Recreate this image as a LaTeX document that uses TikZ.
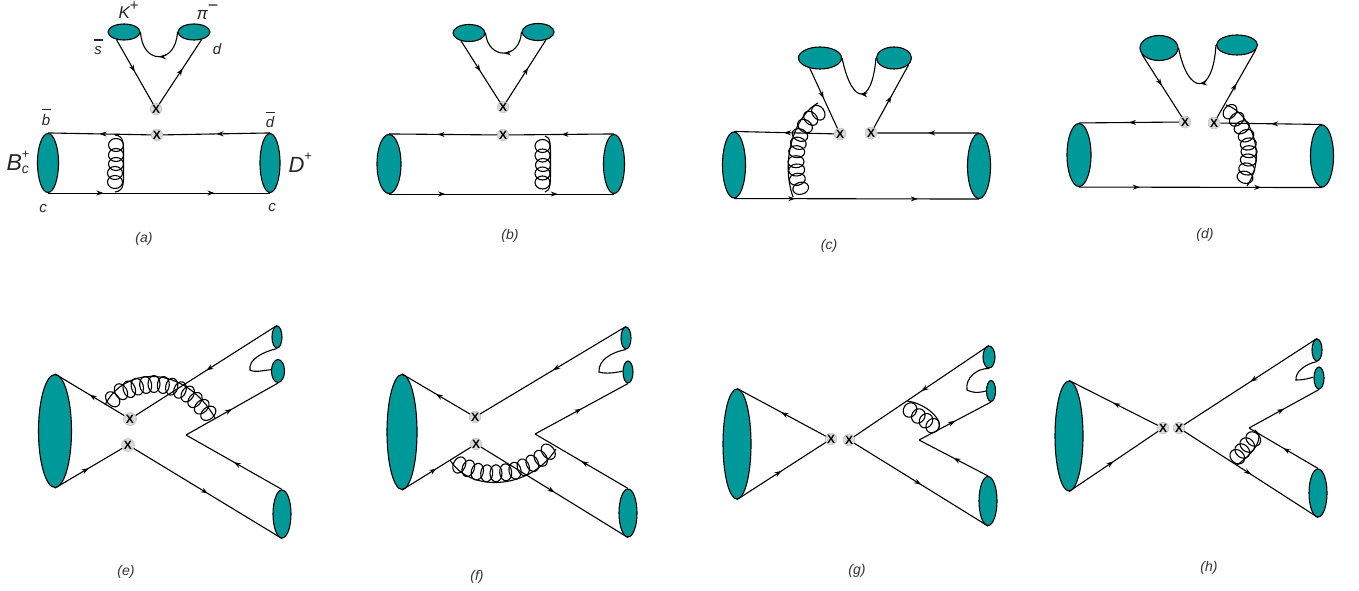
\documentclass[tikz,border=0pt]{standalone}
\usepackage{fontspec}
\setmainfont{Liberation Sans}
\usetikzlibrary{arrows.meta, shapes.geometric, decorations.markings}
\definecolor{mesonteal}{HTML}{009999}
\newcommand{\chg}[3]{\raisebox{#1}{\fontsize{#2}{#2}\selectfont\upshape #3}}
\newcommand{\qbar}[3]{\rlap{\raisebox{#1}{\rule{9pt}{#2}}}#3}
\newcommand{\gloops}[3]{\foreach \gx/\gy/\ga in {#3}
  \draw[shift={(\gx,\gy)}, rotate=\ga] (0,0) ellipse[x radius=#1, y radius=#2];}
\tikzset{
  meson/.style 2 args={ellipse, draw, fill=mesonteal, inner sep=0pt, minimum width=#1pt, minimum height=#2pt},
  vertex/.style={circle, draw=gray!50, fill=gray!30, line width=0.5pt, inner sep=0pt, minimum size=#1pt, font=\fontsize{12}{12}\selectfont\bfseries},
  vertex/.default=10,
  quark/.style={postaction={decorate, decoration={markings, mark=at position #1 with {\arrow{Stealth[length=7pt,width=5pt]}}}}},
  quark/.default=0.5,
  lbl/.style={anchor=base, inner sep=0pt, text=black!85, font=\fontsize{15}{15}\selectfont\itshape},
  panel/.style={inner sep=0pt, text=black!80, font=\fontsize{14}{14}\selectfont\itshape},
}
\begin{document}
\begin{tikzpicture}[x=1pt, y=-1pt, line width=1.1pt]
  \useasboundingbox (0,0) rectangle (1359,591);

  % panel a
  \node[meson={21}{59}] (aB) at (48,163) {};
  \node[meson={20}{59}] (aD) at (270,163) {};
  \node[meson={32}{16}] (aK) at (124,32) {};
  \node[meson={32}{16}] (aP) at (194,32) {};
  \node[vertex] (aU) at (156,109) {X};
  \node[vertex] (aX) at (157,135) {X};
  \coordinate (aG1) at (115,135);
  \coordinate (aG2) at (115,192);
  \draw[quark] (aK.225) -- (aU);
  \draw[quark=0.55] (aU) -- (aP.315);
  \draw[quark] (aP.west) .. controls (176,65) and (142,65) .. (aK.east);
  \draw[quark] (aD.north) -- (aX);
  \draw[quark] (aX) -- (aB.north);
  \draw[quark=0.25, quark=0.75] (aB.south) -- (aD.south);
  \gloops{7.5}{6.5}{116/145/0, 116/155/0, 116/164/0, 115/173/0, 115/182/0}
  \draw (aG1) .. controls (125,136) and (123.5,145) .. (123.5,163) .. controls (123.5,182) and (125,191) .. (aG2);
  \node[lbl, anchor=base west, font=\fontsize{17}{17}\selectfont\itshape] (lK) at (118,19) {K\chg{8.5pt}{15}{+}};
  \node[lbl, anchor=base west, font=\fontsize{17}{17}\selectfont\itshape] (lP) at (196,20) {π\chg{8pt}{18}{−}};
  \node[lbl] (ls) at (98,55) {\qbar{14pt}{1.8pt}{s}};
  \node[lbl] (ld) at (217,55) {d};
  \node[lbl] (lb) at (46,125) {\qbar{15pt}{0.7pt}{b}};
  \node[lbl] (ldd) at (270,128) {\qbar{15pt}{0.7pt}{d}};
  \node[lbl] (lc1) at (43,212) {c};
  \node[lbl] (lc2) at (272,211) {c};
  \node[lbl, anchor=base west, font=\fontsize{23}{23}\selectfont\itshape] (lB) at (6,170) {B\rlap{\chg{11.5pt}{13}{+}}\raisebox{-3pt}{\fontsize{14}{14}\selectfont c}};
  \node[lbl, anchor=base west, font=\fontsize{22}{22}\selectfont\itshape] (lD) at (288,172) {D\chg{11.5pt}{13}{+}};
  \node[panel] (la) at (144,239) {(a)};

  % panel b
  \node[meson={24}{59}] (bB) at (389,164) {};
  \node[meson={21}{59}] (bD) at (614,164) {};
  \node[meson={32}{17}] (bK) at (469,33) {};
  \node[meson={32}{17}] (bP) at (538,32) {};
  \node[vertex] (bU) at (503,107) {X};
  \node[vertex] (bX) at (503,135) {X};
  \coordinate (bG1) at (545,136);
  \coordinate (bG2) at (545,192);
  \draw[quark] (bK.225) -- (bU);
  \draw[quark=0.55] (bU) -- (bP.315);
  \draw[quark] (bP.west) .. controls (520,60) and (488,60) .. (bK.east);
  \draw[quark=0.5] (bD.north) -- (bX);
  \draw[quark=0.55] (bX) -- (bB.north);
  \draw[quark=0.25, quark=0.75] (bB.south) -- (bD.south);
  \gloops{7.5}{6.5}{542.5/146/0, 542.5/155.5/0, 543/165/0, 542.5/173.5/0, 542.5/182.5/0}
  \draw (bG1) .. controls (551,137) and (550.5,145) .. (550.5,164) .. controls (550.5,182) and (551,191) .. (bG2);
  \node[panel] (lb2) at (510,236) {(b)};

  % panel c
  \node[meson={23}{66}] (cB) at (734,165) {};
  \node[meson={23}{65}] (cD) at (979,166) {};
  \node[meson={43}{22}] (cK) at (820,58) {};
  \node[meson={35}{22}] (cP) at (894,58) {};
  \node[vertex=12] (cU) at (840,134) {X};
  \node[vertex=12] (cX) at (871,133) {X};
  \draw[quark] (cK.225) -- (cU);
  \draw[quark] (cX) -- (cP.335);
  \draw[quark] (cP.west) .. controls (872,106) and (852,106) .. (cK.east);
  \draw[quark] (cD.north) -- (cX);
  \draw[quark=0.5] (cU) -- (cB.north);
  \draw[quark=0.25, quark=0.75] (cB.south) -- (cD.south);
  \coordinate (cG1) at (818,103);
  \coordinate (cG2) at (793,197);
  \gloops{8}{6}{818.3/112.7/-55, 810.7/118.3/-45, 805/126/-35, 800/135/-25, 798.3/143.3/-15, 796.7/151.7/-5, 796/161.7/0, 796.7/170/5, 797.3/179.3/10, 800.7/188.3/15}
  \draw (cG1) .. controls (795,115) and (780,160) .. (cG2);
  \node[panel] (lc) at (829,246) {(c)};

  % panel d
  \node[meson={24}{63}] (dB) at (1079,155) {};
  \node[meson={23}{62}] (dD) at (1322,156) {};
  \node[meson={38}{25}] (dK) at (1159,48) {};
  \node[meson={41}{20}] (dP) at (1237,45) {};
  \node[vertex=12] (dU) at (1185,122) {X};
  \node[vertex=12] (dX) at (1214,123) {X};
  \draw[quark] (dK.200) -- (dU);
  \draw[quark] (dX) -- (dP.345);
  \draw[quark] (dP.west) .. controls (1213,96) and (1188,96) .. (dK.east);
  \draw[quark] (dD.north) -- (dX);
  \draw[quark] (dU) -- (dB.north);
  \draw[quark=0.25, quark=0.75] (dB.south) -- (dD.south);
  \coordinate (dG1) at (1226,105);
  \coordinate (dG2) at (1247,186);
  \gloops{8}{6}{1230/111.7/50, 1236.7/119.3/40, 1241.7/127.3/30, 1246/135.7/20, 1248.3/144/10, 1249/151.7/0, 1248.3/160/-5, 1246.7/169/-10, 1245/177.3/-15}
  \draw (dG1) .. controls (1250,112) and (1268,155) .. (dG2);
  \node[panel] (ld2) at (1205,235) {(d)};

  % panel e
  \node[meson={33}{113}] (eB) at (55,431) {};
  \node[meson={10}{22}] (eM) at (277,337) {};
  \node[meson={13}{23}] (eN) at (278,371) {};
  \node[meson={18}{48}] (eO) at (282,514) {};
  \node[vertex=13] (eU) at (130,419) {X};
  \node[vertex=13] (eX) at (128,445) {X};
  \coordinate (eC) at (186,435);
  \coordinate (eH) at (250,370);
  \draw[quark] (eU) -- (eB.north);
  \draw[quark] (eB.south) -- (eX);
  \draw[quark] (eM.north) -- (eU);
  \draw[quark] (eC) -- (eN.south);
  \draw[quark] (eO.north) -- (eC);
  \draw[quark] (eX) -- (eO.south);
  \draw (eM.south) .. controls (262,352) and (248,360) .. (eH) .. controls (255,373) and (265,370) .. (eN.170);
  \coordinate (eG1) at (105,405);
  \coordinate (eG2) at (215,418);
  \gloops{8.5}{6}{112.7/399.3/130, 121/391.7/120, 129.3/389.3/110, 137.3/386.7/105, 145.7/385/97, 154/384/90, 163.3/385/85, 171.7/386.7/78, 180/390/70, 187.7/394/60, 195/400/50, 201.7/406.7/45, 208.3/413.3/40}
  \draw (eG1) .. controls (125,365) and (185,365) .. (eG2);
  \node[panel] (le) at (126,572) {(e)};

  % panel f
  \node[meson={30}{115}] (fB) at (402,432) {};
  \node[meson={10}{22}] (fM) at (626,338) {};
  \node[meson={10}{22}] (fN) at (628,372) {};
  \node[meson={18}{48}] (fO) at (628,513) {};
  \node[vertex=11] (fU) at (475,417) {X};
  \node[vertex=11] (fX) at (476,444) {X};
  \coordinate (fC) at (535,434);
  \coordinate (fH) at (599,372);
  \draw[quark] (fU) -- (fB.north);
  \draw[quark] (fB.south) -- (fX);
  \draw[quark] (fM.north) -- (fU);
  \draw[quark] (fC) -- (fN.south);
  \draw[quark] (fO.north) -- (fC);
  \draw[quark] (fX) -- (fO.south);
  \draw (fM.south) .. controls (612,352) and (598,360) .. (fH) .. controls (605,374) and (615,373) .. (fN.170);
  \coordinate (fG1) at (450,460);
  \coordinate (fG2) at (556,449);
  \gloops{8.5}{6}{459.3/465/65, 468.3/468.3/70, 477.3/471.7/75, 486.7/473.3/85, 496/473.3/90, 505.7/472.3/95, 515/470.7/100, 523.3/467.3/105, 532.3/463.3/112, 540.7/458.3/120, 548.3/451.7/128}
  \draw (fG1) .. controls (470,493) and (530,490) .. (fG2);
  \node[panel] (lf) at (477,577) {(f)};

  % panel g
  \node[meson={28}{110}] (gB) at (737,444) {};
  \node[meson={12}{22}] (gM) at (989,357) {};
  \node[meson={9}{21}] (gN) at (991,391) {};
  \node[meson={18}{49}] (gO) at (988,501) {};
  \node[vertex] (gU) at (831,439) {X};
  \node[vertex] (gX) at (849,440) {X};
  \coordinate (gC) at (919,440);
  \coordinate (gH) at (967,390);
  \draw[quark] (gU) -- (gB.north);
  \draw[quark] (gB.south) -- (gU);
  \draw[quark] (gM.north) -- (gX);
  \draw[quark] (gC) -- (gN.south);
  \draw[quark] (gO.north) -- (gC);
  \draw[quark] (gX) -- (gO.south);
  \draw (gM.south) .. controls (977,368) and (965,378) .. (gH) .. controls (975,394) and (982,392) .. (gN.west);
  \coordinate (gG1) at (907,401);
  \coordinate (gG2) at (938,430);
  \gloops{7.5}{6.5}{910/410/57, 918.3/416/57, 926/420.7/57, 932.7/425.7/57}
  \draw (gG1) .. controls (925,403) and (945,420) .. (gG2);
  \node[panel] (lg) at (857,571) {(g)};

  % panel h
  \node[meson={28}{110}] (hB) at (1069,436) {};
  \node[meson={10}{22}] (hM) at (1317,350) {};
  \node[meson={10}{22}] (hN) at (1319,378) {};
  \node[meson={18}{48}] (hO) at (1318,493) {};
  \node[vertex] (hU) at (1163,428) {X};
  \node[vertex] (hX) at (1179,428) {X};
  \coordinate (hC) at (1249,428);
  \coordinate (hH) at (1296,380);
  \draw[quark] (hU) -- (hB.north);
  \draw[quark] (hB.south) -- (hU);
  \draw[quark] (hM.north) -- (hX);
  \draw[quark] (hC) -- (hN.south);
  \draw[quark] (hO.north) -- (hC);
  \draw[quark] (hX) -- (hO.south);
  \draw (hM.south) .. controls (1305,364) and (1295,372) .. (hH) .. controls (1305,380) and (1310,378) .. (hN.170);
  \coordinate (hG1) at (1255,430);
  \coordinate (hG2) at (1237,465);
  \gloops{8}{6.5}{1237.3/456.7/-43, 1242.3/451/-43, 1247.3/445/-43, 1253.3/439/-43}
  \draw (hG1) .. controls (1265,437) and (1255,452) .. (hG2);
  \node[panel] (lh) at (1209,568) {(h)};
\end{tikzpicture}
\end{document}
